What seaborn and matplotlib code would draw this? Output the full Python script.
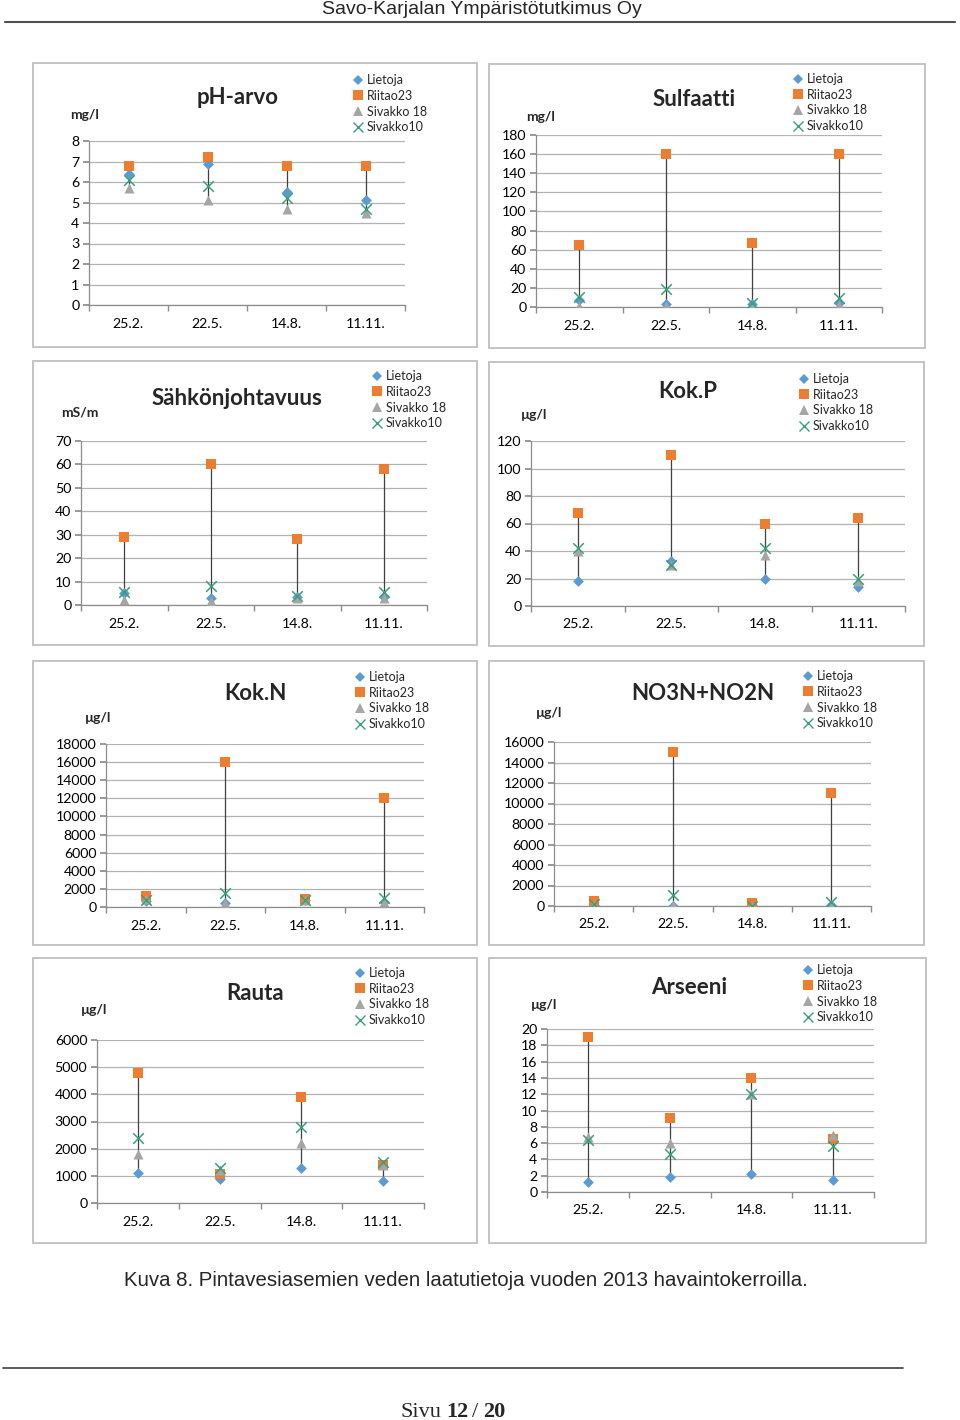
import matplotlib
matplotlib.use("Agg")
import matplotlib.pyplot as plt
from matplotlib.patches import Rectangle
from matplotlib.lines import Line2D
import numpy
import pandas
import seaborn as sns

W, H = 960, 1420

paivat = ["25.2.", "22.5.", "14.8.", "11.11."]
asemat = ["Lietoja", "Riitao23", "Sivakko 18", "Sivakko10"]

# pH-arvo
ph_lietoja = [6.4, 6.9, 5.5, 5.1]
ph_riitao23 = [6.8, 7.2, 6.8, 6.8]
ph_sivakko18 = [5.7, 5.1, 4.7, 4.5]
ph_sivakko10 = [6.1, 5.8, 5.2, 4.7]

# Sulfaatti mg/l
so4_lietoja = [7, 3, 3, 4]
so4_riitao23 = [65, 160, 67, 160]
so4_sivakko18 = [1, 1, 1, 2]
so4_sivakko10 = [10, 19, 4, 9]

# Sähkönjohtavuus mS/m
sj_lietoja = [5, 3, 3.5, 3.5]
sj_riitao23 = [29, 60, 28, 58]
sj_sivakko18 = [2, 1.5, 3, 3]
sj_sivakko10 = [5.5, 8, 4, 5.5]

# Kok.P ug/l
p_lietoja = [18, 33, 20, 14]
p_riitao23 = [68, 110, 60, 64]
p_sivakko18 = [40, 30, 37, 18]
p_sivakko10 = [42, 30, 42, 20]

# Kok.N ug/l
n_lietoja = [700, 400, 800, 500]
n_riitao23 = [1200, 16000, 900, 12000]
n_sivakko18 = [900, 400, 800, 500]
n_sivakko10 = [800, 1600, 800, 1000]

# NO3N+NO2N ug/l
no3_lietoja = [100, 30, 50, 100]
no3_riitao23 = [500, 15000, 300, 11000]
no3_sivakko18 = [100, 50, 20, 100]
no3_sivakko10 = [200, 1100, 20, 400]

# Rauta ug/l
fe_lietoja = [1100, 900, 1300, 800]
fe_riitao23 = [4800, 1050, 3900, 1400]
fe_sivakko18 = [1800, 1200, 2200, 1400]
fe_sivakko10 = [2400, 1300, 2800, 1500]

# Arseeni ug/l
as_lietoja = [1.2, 1.9, 2.2, 1.5]
as_riitao23 = [19, 9.1, 14, 6.5]
as_sivakko18 = [6.8, 6.0, 12, 7.0]
as_sivakko10 = [6.4, 4.7, 12, 5.7]

varit = ["#5B9BD5", "#ED7D31", "#A5A5A5", "#3AA07A"]
merkit = ["D", "s", "^", "x"]
koot = [30, 62, 52, 58]

sns.set_theme(style="white")
plt.rcParams["font.family"] = ["Lato", "DejaVu Sans"]


def fr(x0, y0, x1, y1):
    return [x0 / W, 1 - y1 / H, (x1 - x0) / W, (y1 - y0) / H]


def piirra(fig, otsikko, yksikko, sarjat, ymax, step, reuna, alue, otsxy, yksxy, legxy):
    x0, y0, x1, y1 = reuna
    fig.add_artist(Rectangle((x0 / W, 1 - y1 / H), (x1 - x0) / W, (y1 - y0) / H,
                             transform=fig.transFigure, fill=False,
                             ec="#C4C4C4", lw=1.4))
    ax = fig.add_axes(fr(*alue))
    ax.set_facecolor("none")
    pos = numpy.arange(len(paivat))
    df = pandas.DataFrame({"pos": numpy.tile(pos, 4),
                           "asema": numpy.repeat(asemat, 4),
                           "arvo": numpy.concatenate(sarjat)})
    lo = df.groupby("pos")["arvo"].min()
    hi = df.groupby("pos")["arvo"].max()
    ax.vlines(lo.index, lo.values, hi.values, color="#404040", lw=0.9, zorder=2)
    for i, a in enumerate(asemat):
        d = df[df["asema"] == a]
        if merkit[i] == "x":
            sns.scatterplot(x=d["pos"], y=d["arvo"], marker="x", color=varit[i],
                            s=koot[i], linewidth=1.1, ax=ax, zorder=3)
        else:
            sns.scatterplot(x=d["pos"], y=d["arvo"], marker=merkit[i], color=varit[i],
                            s=koot[i], linewidth=0, ax=ax, zorder=3)
    ax.set_xlim(-0.5, 3.5)
    ax.set_ylim(0, ymax)
    ax.set_yticks(numpy.arange(0, ymax + step / 2, step))
    ax.set_xticks(pos)
    ax.set_xticklabels(paivat)
    ax.set_xticks(numpy.arange(-0.5, 4, 1), minor=True)
    ax.set_xlabel("")
    ax.set_ylabel("")
    ax.yaxis.grid(True, color="#B3B3B3", lw=0.9)
    ax.set_axisbelow(True)
    for s in ["top", "right"]:
        ax.spines[s].set_visible(False)
    for s in ["left", "bottom"]:
        ax.spines[s].set_color("#8C8C8C")
        ax.spines[s].set_linewidth(0.9)
    ax.tick_params(axis="x", which="major", length=0, pad=9, labelsize=10.2, labelcolor="black")
    ax.tick_params(axis="x", which="minor", length=4, color="#8C8C8C", bottom=True)
    ax.tick_params(axis="y", length=4, color="#8C8C8C", left=True, pad=3,
                   labelsize=10.2, labelcolor="black")
    fig.text(otsxy[0] / W, 1 - otsxy[1] / H, otsikko, ha="center", va="center",
             fontsize=16, fontweight="bold")
    fig.text(yksxy[0] / W, 1 - yksxy[1] / H, yksikko, ha="center", va="center",
             fontsize=10, fontweight="bold")
    kahvat = [Line2D([], [], marker=merkit[i], color=varit[i], linestyle="",
                     markersize=6.5 if merkit[i] != "D" else 5,
                     markeredgewidth=1.0 if merkit[i] == "x" else 0)
              for i in range(4)]
    fig.legend(kahvat, asemat, loc="upper left",
               bbox_to_anchor=((legxy[0] - 5) / W, 1 - (legxy[1] - 6) / H),
               frameon=False, fontsize=9, handlelength=0.8, handletextpad=0.3,
               labelspacing=0.3, borderpad=0, borderaxespad=0)
    return ax


fig = plt.figure(figsize=(W / 100, H / 100), dpi=100)
fig.patch.set_facecolor("white")

piirra(fig, "pH-arvo", "mg/l", [ph_lietoja, ph_riitao23, ph_sivakko18, ph_sivakko10],
       8, 1, (33, 63, 477, 347), (89, 141, 405, 305), (238, 98), (85, 115), (358, 80))
piirra(fig, "Sulfaatti", "mg/l", [so4_lietoja, so4_riitao23, so4_sivakko18, so4_sivakko10],
       180, 20, (489, 64, 925, 348), (536, 135, 882, 307), (694, 100), (541, 117), (798, 79))
piirra(fig, "Sähkönjohtavuus", "mS/m", [sj_lietoja, sj_riitao23, sj_sivakko18, sj_sivakko10],
       70, 10, (33, 361, 477, 645), (81, 441, 427, 605), (237, 398), (80, 413), (377, 376))
piirra(fig, "Kok.P", "µg/l", [p_lietoja, p_riitao23, p_sivakko18, p_sivakko10],
       120, 20, (489, 362, 924, 646), (531, 441, 905, 606), (688, 391), (534, 415), (804, 379))
piirra(fig, "Kok.N", "µg/l", [n_lietoja, n_riitao23, n_sivakko18, n_sivakko10],
       18000, 2000, (33, 661, 477, 945), (106, 744, 424, 907), (255, 694), (98, 718), (360, 677))
piirra(fig, "NO3N+NO2N", "µg/l", [no3_lietoja, no3_riitao23, no3_sivakko18, no3_sivakko10],
       16000, 2000, (489, 661, 924, 945), (554, 742, 871, 906), (703, 694), (549, 713), (808, 676))
piirra(fig, "Rauta", "µg/l", [fe_lietoja, fe_riitao23, fe_sivakko18, fe_sivakko10],
       6000, 1000, (33, 958, 477, 1243), (97, 1040, 424, 1203), (255, 993), (94, 1010), (360, 973))
piirra(fig, "Arseeni", "µg/l", [as_lietoja, as_riitao23, as_sivakko18, as_sivakko10],
       20, 2, (489, 958, 926, 1243), (547, 1029, 874, 1192), (689, 987), (544, 1005), (808, 970))

# page header, caption and footer
fig.text(482 / W, 1 - 10 / H, "Savo-Karjalan Ympäristötutkimus Oy", ha="center", va="center",
         fontsize=14, family=["Liberation Sans Narrow", "Liberation Sans", "DejaVu Sans"])
fig.add_artist(Line2D([5 / W, 955 / W], [1 - 22 / H] * 2, transform=fig.transFigure,
                      color="#505050", lw=1.5))
fig.text(124 / W, 1 - 1281 / H,
         "Kuva 8. Pintavesiasemien veden laatutietoja vuoden 2013 havaintokerroilla.",
         ha="left", va="center", fontsize=14.7, family=["Liberation Sans", "DejaVu Sans"])
fig.add_artist(Line2D([3 / W, 903 / W], [1 - 1368 / H] * 2, transform=fig.transFigure,
                      color="#404040", lw=1.2))
serif = ["Liberation Serif", "DejaVu Serif"]
fig.text(400 / W, 1 - 1417 / H, "Sivu", ha="left", va="baseline", fontsize=16, family=serif)
fig.text(446 / W, 1 - 1417 / H, "12", ha="left", va="baseline", fontsize=16,
         fontweight="bold", family=serif)
fig.text(472 / W, 1 - 1417 / H, "/", ha="left", va="baseline", fontsize=16, family=serif)
fig.text(483 / W, 1 - 1417 / H, "20", ha="left", va="baseline", fontsize=16,
         fontweight="bold", family=serif)

fig.savefig("out.png", dpi=100)
